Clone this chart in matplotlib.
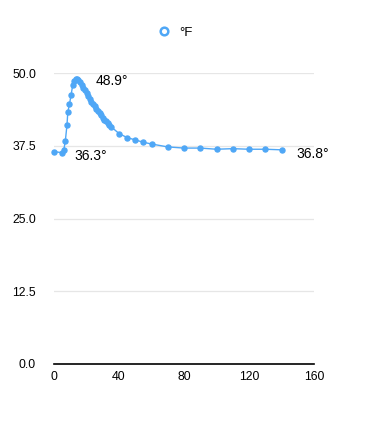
import matplotlib
matplotlib.use("Agg")
import matplotlib.pyplot as plt

plt.rcParams['font.family'] = ['Liberation Sans', 'DejaVu Sans']

# minutes vs temperature (°F)
minutes = [0, 5, 6, 7, 8, 8.5, 9.5, 10.5, 11.5, 12.5, 13.5, 14, 15, 16, 17, 18, 19, 20,
           21, 22, 23, 24, 25, 26, 27, 28, 29, 30, 31, 32, 33, 34, 35,
           40, 45, 50, 55, 60, 70, 80, 90, 100, 110, 120, 130, 140]
temps = [36.5, 36.3, 36.7, 38.4, 41.1, 43.3, 44.6, 46.2, 47.9, 48.6, 48.9, 48.9, 48.8, 48.4,
         47.9, 47.5, 47.0, 46.6, 46.1, 45.6, 45.1, 44.7, 44.3, 43.9, 43.5, 43.1, 42.7,
         42.3, 42.0, 41.7, 41.4, 41.1, 40.8,
         39.6, 38.9, 38.5, 38.1, 37.8, 37.3, 37.1, 37.1, 36.9, 37.0, 36.9, 36.9, 36.8]
yticks = [0.0, 12.5, 25.0, 37.5, 50.0]
xticks = [0, 40, 80, 120, 160]

color = '#4fa7f6'

fig = plt.figure(figsize=(3.71, 4.24), dpi=100)
ax = fig.add_axes([54 / 371, 1 - 364 / 424, 260 / 371, (364 - 73) / 424])

ax.plot(minutes, temps, color=color, lw=1.0, marker='o', ms=3.6,
        mec=color, mfc=color, clip_on=False, zorder=3, label='°F')

ax.set_xlim(0, 160)
ax.set_ylim(0, 50)
ax.set_xticks(xticks)
ax.set_xticklabels([str(t) for t in xticks])
ax.set_yticks(yticks)
ax.set_yticklabels([f'{t:.1f}' for t in yticks])
ax.tick_params(length=0, labelsize=8.8, colors='black')
ax.tick_params(axis='y', pad=13)
ax.tick_params(axis='x', pad=5)

ax.grid(axis='y', color='#e6e6e6', lw=0.9)
ax.grid(axis='x', visible=False)
for side in ['top', 'right', 'left']:
    ax.spines[side].set_visible(False)
ax.spines['bottom'].set_color('black')
ax.spines['bottom'].set_linewidth(1.2)
ax.spines['bottom'].set_zorder(4)

# min / max / last labels
imax = temps.index(max(temps))
imin = temps.index(min(temps))
ax.annotate(f'{temps[imax]:.1f}°', (minutes[imax], temps[imax]), xytext=(14, -1),
            textcoords='offset points', fontsize=10, va='center', ha='left')
ax.annotate(f'{temps[imin]:.1f}°', (minutes[imin], temps[imin]), xytext=(9, -2),
            textcoords='offset points', fontsize=10, va='center', ha='left')
ax.annotate(f'{temps[-1]:.1f}°', (minutes[-1], temps[-1]), xytext=(11, -3),
            textcoords='offset points', fontsize=10, va='center', ha='left')

leg = fig.legend(handles=[plt.Line2D([], [], color=color, marker='o', ms=5.5, mfc='white',
                                     mew=1.8, lw=0)],
                 labels=['°F'], loc='center', bbox_to_anchor=(175 / 371, 1 - 33 / 424),
                 frameon=False, fontsize=9.5, handlelength=1.0, handletextpad=0.6)

fig.savefig('out.png', dpi=100)
